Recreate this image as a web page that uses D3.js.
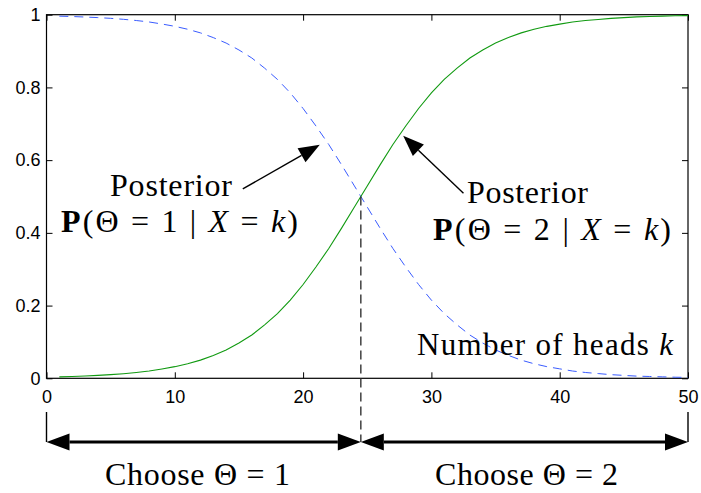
<!DOCTYPE html>
<html><head><meta charset="utf-8">
<script src="https://cdn.jsdelivr.net/npm/d3@7"></script>
<style>body{margin:0;background:#fff}svg{display:block}</style>
</head><body>
<svg id="c" width="701" height="493"></svg>
<script>
// ---- data ----
const heads = [1,2,3,4,5,6,7,8,9,10,11,12,13,14,15,16,17,18,19,20,21,22,23,24,25,26,27,28,29,30,31,32,33,34,35,36,37,38,39,40,41,42,43,44,45,46,47,48,49,50];
const postTheta2 = [0.004,0.005,0.0064,0.008,0.010,0.0127,0.016,0.020,0.0256,0.032,0.040,0.050,0.063,0.078,0.097,0.119,0.147,0.178,0.215,0.258,0.306,0.357,0.413,0.471,0.529,0.587,0.643,0.694,0.742,0.785,0.822,0.853,0.881,0.903,0.922,0.937,0.950,0.960,0.968,0.974,0.980,0.984,0.987,0.990,0.992,0.994,0.995,0.996,0.997,0.9975];
const postTheta1 = [0.996,0.995,0.9936,0.992,0.990,0.9873,0.984,0.980,0.9744,0.968,0.960,0.950,0.937,0.922,0.903,0.881,0.853,0.822,0.785,0.742,0.694,0.643,0.587,0.529,0.471,0.413,0.357,0.306,0.258,0.215,0.178,0.147,0.119,0.097,0.078,0.063,0.050,0.040,0.032,0.026,0.020,0.016,0.013,0.010,0.008,0.006,0.005,0.004,0.003,0.0025];
const xTicks = [0,10,20,30,40,50];
const xTickLabels = ["0","10","20","30","40","50"];
const yTicks = [0,0.2,0.4,0.6,0.8,1];
const yTickLabels = ["0","0.2","0.4","0.6","0.8","1"];
const threshold = 24.5;
const choiceLabels = ["1","2"];

const svg = d3.select("#c");
const x = d3.scaleLinear().domain([0,50]).range([46.5,688]);
const y = d3.scaleLinear().domain([0,1]).range([378.3,14.7]);

const SANS = "'Liberation Sans'";
const SERIF = "'Liberation Serif'";

function styleAxis(g){
  g.attr("font-family",null).attr("font-size",null);
  g.select(".domain").remove();
  g.selectAll(".tick line").attr("stroke","#000").attr("stroke-width",1);
  g.selectAll(".tick text").attr("fill","#000").style("font-family",SANS).style("font-size","18px");
}

// axes with inward ticks
svg.append("g").attr("transform",`translate(0,${y(0)})`)
  .call(d3.axisBottom(x).tickValues(xTicks).tickFormat((d,i)=>xTickLabels[i]).tickSizeInner(-6).tickSizeOuter(0).tickPadding(12))
  .call(styleAxis);
svg.append("g").attr("transform",`translate(${x(0)},0)`)
  .call(d3.axisLeft(y).tickValues(yTicks).tickFormat((d,i)=>yTickLabels[i]).tickSizeInner(-6).tickSizeOuter(0).tickPadding(6))
  .call(styleAxis);
svg.append("g").attr("transform",`translate(0,${y(1)})`)
  .call(d3.axisTop(x).tickValues(xTicks).tickFormat("").tickSizeInner(-6).tickSizeOuter(0))
  .call(styleAxis);
svg.append("g").attr("transform",`translate(${x(50)},0)`)
  .call(d3.axisRight(y).tickValues(yTicks).tickFormat("").tickSizeInner(-6).tickSizeOuter(0))
  .call(styleAxis);

svg.append("rect")
  .attr("x",x(0)).attr("y",y(1)).attr("width",x(50)-x(0)).attr("height",y(0)-y(1))
  .attr("fill","none").attr("stroke","#000").attr("stroke-width",1.2);

// curves
const line = d3.line().x((d,i)=>x(heads[i])).y(d=>y(d));
svg.append("path").datum(postTheta1).attr("d",line)
  .attr("fill","none").attr("stroke","#3a5cff").attr("stroke-width",1).attr("stroke-dasharray","9,6");
svg.append("path").datum(postTheta2).attr("d",line)
  .attr("fill","none").attr("stroke","#119a11").attr("stroke-width",1.1);

// threshold dashed line
const arrowY = 442;
svg.append("line")
  .attr("x1",x(threshold)).attr("x2",x(threshold))
  .attr("y1",y(0.5)).attr("y2",arrowY)
  .attr("stroke","#333").attr("stroke-width",1.4).attr("stroke-dasharray","9,5");

// helper arrowhead
function head(tx,ty,fx,fy,len,hw){
  const dx=tx-fx, dy=ty-fy, L=Math.hypot(dx,dy), ux=dx/L, uy=dy/L;
  const bx=tx-ux*len, by=ty-uy*len;
  const pts=[[tx,ty],[bx-uy*hw,by+ux*hw],[bx+uy*hw,by-ux*hw]];
  svg.append("polygon").attr("points",pts.map(p=>p.join(",")).join(" ")).attr("fill","#000");
  return [bx,by];
}
function arrow(fk,fp,tk,tp){
  const fx=x(fk), fy=y(fp), tx=x(tk), ty=y(tp);
  const [bx,by]=head(tx,ty,fx,fy,21,8);
  svg.append("line").attr("x1",fx).attr("y1",fy).attr("x2",bx).attr("y2",by)
    .attr("stroke","#000").attr("stroke-width",1.4);
}
arrow(15.3,0.521,21.3,0.642);
arrow(32.5,0.509,27.8,0.667);

// text annotations
function baseText(xl,xr,base,size){
  return svg.append("text").attr("x",xl).attr("y",base)
    .style("font-family",SERIF).style("font-size",size+"px").attr("fill","#000")
    .attr("textLength",xr-xl).attr("lengthAdjust","spacing");
}
function plain(txt,xl,xr,base,size){
  baseText(xl,xr,base,size).text(txt);
}
function math(val,xl,xr,base,size){
  const t=baseText(xl,xr,base,size);
  t.append("tspan").style("font-weight","bold").text("P");
  t.append("tspan").text("(Θ = "+val+" | ");
  t.append("tspan").style("font-style","italic").text("X");
  t.append("tspan").text(" = ");
  t.append("tspan").style("font-style","italic").text("k");
  t.append("tspan").text(")");
}
plain("Posterior",110,232,196,32);
math(choiceLabels[0],61,298,232,32);
plain("Posterior",467,588,203,32);
math(choiceLabels[1],433,671,239.5,32);
(function(){
  const t=baseText(417,673,355,31);
  t.append("tspan").text("Number of heads ");
  t.append("tspan").style("font-style","italic").text("k");
})();

// decision arrows below the axis
[[0,threshold],[threshold,50]].forEach(([a,b])=>{
  const xa=x(a), xb=x(b);
  const [b1]=head(xa,arrowY,xb,arrowY,23,8.5);
  const [b2]=head(xb,arrowY,xa,arrowY,23,8.5);
  svg.append("line").attr("x1",b1).attr("x2",b2).attr("y1",arrowY).attr("y2",arrowY)
    .attr("stroke","#000").attr("stroke-width",3);
});
[0,50].forEach(v=>{
  svg.append("line").attr("x1",x(v)).attr("x2",x(v)).attr("y1",412).attr("y2",arrowY)
    .attr("stroke","#000").attr("stroke-width",1.4);
});
function choose(val,xl,xr){
  baseText(xl,xr,485,32).text("Choose Θ = "+val);
}
choose(choiceLabels[0],105,290);
choose(choiceLabels[1],435,618);
</script>
</body></html>
